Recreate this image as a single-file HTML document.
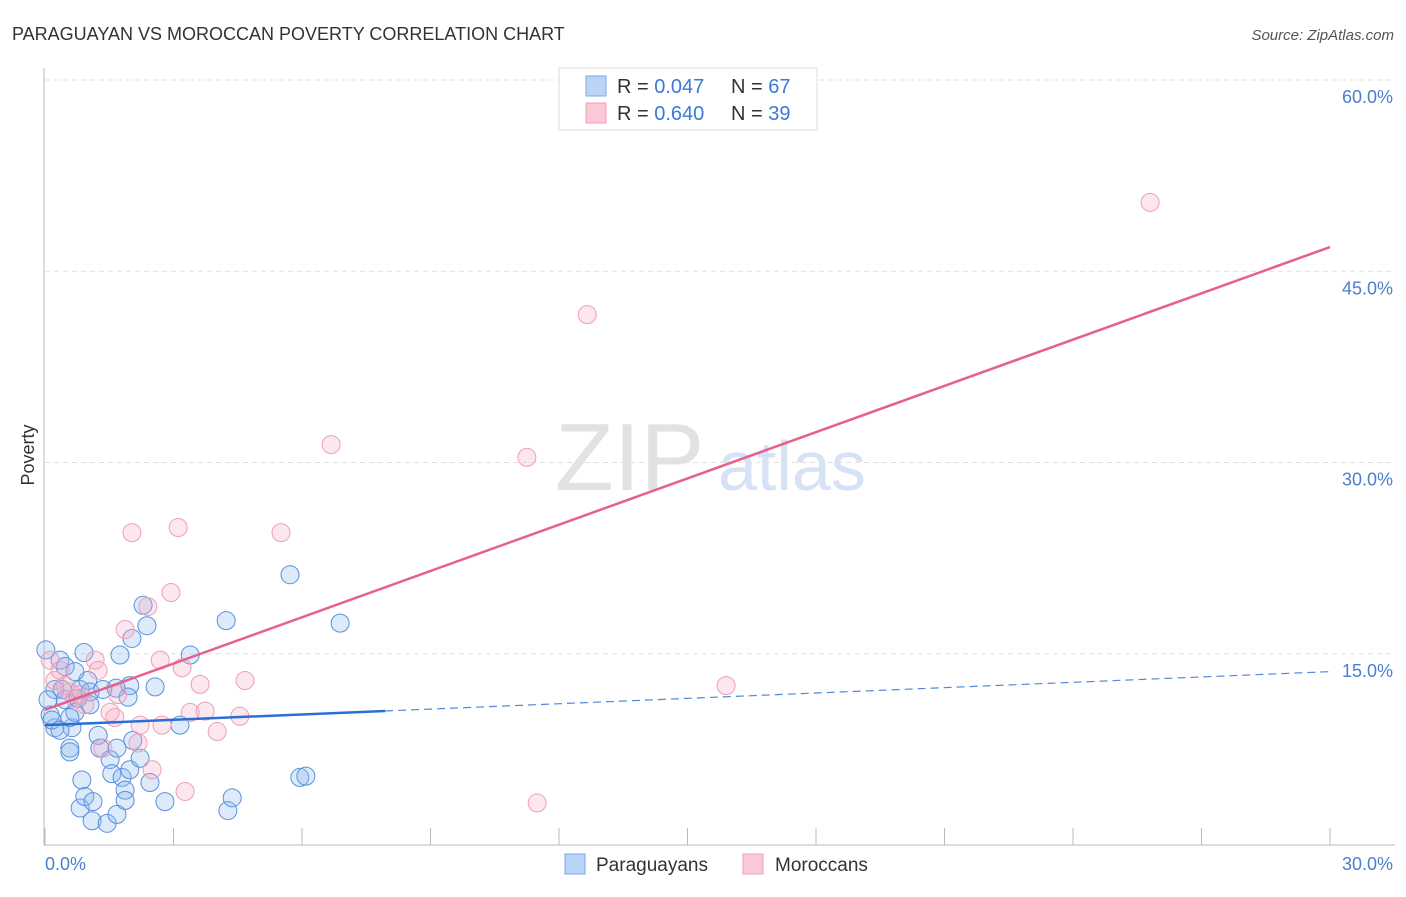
<!DOCTYPE html>
<html><head><meta charset="utf-8"><style>
body{margin:0;background:#fff;font-family:"Liberation Sans",sans-serif}
svg text{font-family:"Liberation Sans",sans-serif}
</style></head><body>
<svg id="chart" width="1406" height="892" xmlns="http://www.w3.org/2000/svg">
<text x="12" y="40" font-size="18" fill="#333">PARAGUAYAN VS MOROCCAN POVERTY CORRELATION CHART</text>
<text x="1394" y="40" font-size="15" fill="#555" font-style="italic" text-anchor="end">Source: ZipAtlas.com</text>
<text x="555" y="490" font-size="96" fill="#e2e2e2" font-family="Liberation Serif">ZIP</text>
<text x="718" y="490" font-size="70" fill="#d5e3f5">atlas</text>
<g id="grid"></g><g id="marks"></g>
<text transform="translate(34,455) rotate(-90)" font-size="18" fill="#333" text-anchor="middle">Poverty</text>
<g>
<rect x="559" y="68" width="258" height="62" fill="#fff" stroke="#ddd"/>
<rect x="586" y="76" width="20" height="20" fill="#b9d4f7" stroke="#7aa8e6"/>
<rect x="586" y="103" width="20" height="20" fill="#fac8d6" stroke="#eca0b8"/>
<text x="617" y="93" font-size="20" fill="#333">R = <tspan fill="#3b78d8">0.047</tspan></text>
<text x="731" y="93" font-size="20" fill="#333">N = <tspan fill="#3b78d8">67</tspan></text>
<text x="617" y="120" font-size="20" fill="#333">R = <tspan fill="#3b78d8">0.640</tspan></text>
<text x="731" y="120" font-size="20" fill="#333">N = <tspan fill="#3b78d8">39</tspan></text>
</g>
<g>
<rect x="565" y="854" width="20" height="20" fill="#b9d4f7" stroke="#7aa8e6"/>
<text x="596" y="871" font-size="19" fill="#333">Paraguayans</text>
<rect x="743" y="854" width="20" height="20" fill="#fac8d6" stroke="#eca0b8"/>
<text x="775" y="871" font-size="19" fill="#333">Moroccans</text>
</g>
</svg>
<script>
const yTicks=[15,30,45,60];
const xTickLabels=["0.0%","30.0%"];
const blueX=[0.02,0.23,0.12,0.23,0.35,0.47,0.47,0.58,0.63,0.70,0.77,0.82,0.40,0.91,1.00,1.05,1.24,1.28,1.35,1.52,1.56,1.68,1.80,1.87,1.87,1.98,2.03,1.98,2.05,2.22,2.29,2.38,2.45,2.57,2.80,3.15,3.39,0.86,0.82,0.93,1.12,1.10,1.45,1.68,4.27,4.37,4.23,5.72,5.95,6.09,6.89,0.58,0.07,0.16,0.35,0.58,0.70,1.05,1.75,1.66,1.94];
const blueY=[15.3,9.2,10.2,12.2,14.5,14.0,11.4,7.6,9.2,10.4,11.5,12.2,12.2,15.1,12.9,12.0,8.6,7.6,12.2,6.7,5.6,7.6,5.3,4.3,3.5,12.5,16.2,5.9,8.2,6.8,18.8,17.2,4.9,12.4,3.4,9.4,14.9,5.1,2.9,3.8,3.4,1.9,1.7,2.4,2.7,3.7,17.6,21.2,5.3,5.4,17.4,7.3,11.4,9.8,9.0,10.0,13.6,11.0,14.9,12.3,11.6];
const pinkX=[0.12,0.23,0.35,0.47,0.58,0.70,0.82,0.93,1.17,1.24,1.52,1.63,1.70,1.87,2.03,2.17,2.22,2.40,2.50,2.69,2.73,2.94,3.11,3.20,3.27,3.39,3.62,3.74,4.02,4.55,4.67,5.51,6.68,11.25,11.49,12.66,15.90,25.80,1.35];
const pinkY=[14.5,12.9,13.7,12.5,12.0,11.5,11.8,11.0,14.5,13.7,10.4,10.0,11.8,16.9,24.5,8.0,9.4,18.7,5.9,14.5,9.4,19.8,24.9,13.9,4.2,10.4,12.6,10.5,8.9,10.1,12.9,24.5,31.4,30.4,3.3,41.6,12.5,50.4,7.6];
const blueTrend=[9.4,13.6], blueSolidEnd=7.94;
const pinkTrend=[10.6,46.9];
const NS="http://www.w3.org/2000/svg";
const sx=v=>45+v*1285/30, sy=v=>845-v*765/60;
function mk(p,t,a){const e=document.createElementNS(NS,t);for(const k in a)e.setAttribute(k,a[k]);p.appendChild(e);return e;}
const grid=document.getElementById('grid'), marks=document.getElementById('marks');
yTicks.forEach(t=>{
 const l=mk(grid,'line',{x1:45,x2:1395,y1:sy(t),y2:sy(t),stroke:'#e0e0e0','stroke-dasharray':'5,4'});
 
 
 const tx=mk(grid,'text',{x:1393,y:sy(t)+23,'font-size':18,fill:'#4a7fd0','text-anchor':'end'});tx.textContent=t.toFixed(1)+'%';
 
 
});
const ax=mk(grid,'path',{d:'M44 68V845H1395',stroke:'#bbb',fill:'none'});


for(let i=0;i<=10;i++){const t=mk(grid,'line',{x1:sx(i*3),x2:sx(i*3),y1:828,y2:845,stroke:'#bbb'});
 
 }
[[0,45,'start'],[30,1393,'end']].forEach((d,i)=>{const t=mk(grid,'text',{x:d[1],y:870,'font-size':18,fill:'#4a7fd0','text-anchor':d[2]});t.textContent=xTickLabels[i];
 
 });
blueX.forEach((x,i)=>{const c=mk(marks,'circle',{cx:sx(x),cy:sy(blueY[i]),r:9,fill:'rgba(140,185,240,0.3)',stroke:'#5a90dc','stroke-width':1});
 
 });
pinkX.forEach((x,i)=>{const c=mk(marks,'circle',{cx:sx(x),cy:sy(pinkY[i]),r:9,fill:'rgba(245,170,195,0.28)',stroke:'#ee9fb7','stroke-width':1});
 
 });
const bAt=x=>blueTrend[0]+(blueTrend[1]-blueTrend[0])*x/30;
let l1=mk(marks,'line',{x1:sx(0),y1:sy(bAt(0)),x2:sx(blueSolidEnd),y2:sy(bAt(blueSolidEnd)),stroke:'#2a6fd6','stroke-width':2.5});


let l2=mk(marks,'line',{x1:sx(blueSolidEnd),y1:sy(bAt(blueSolidEnd)),x2:sx(30),y2:sy(bAt(30)),stroke:'#4f8ad9','stroke-width':1.2,'stroke-dasharray':'8,5'});


let l3=mk(marks,'line',{x1:sx(0),y1:sy(pinkTrend[0]),x2:sx(30),y2:sy(pinkTrend[1]),stroke:'#e5608e','stroke-width':2.5});


</script>
</body></html>
